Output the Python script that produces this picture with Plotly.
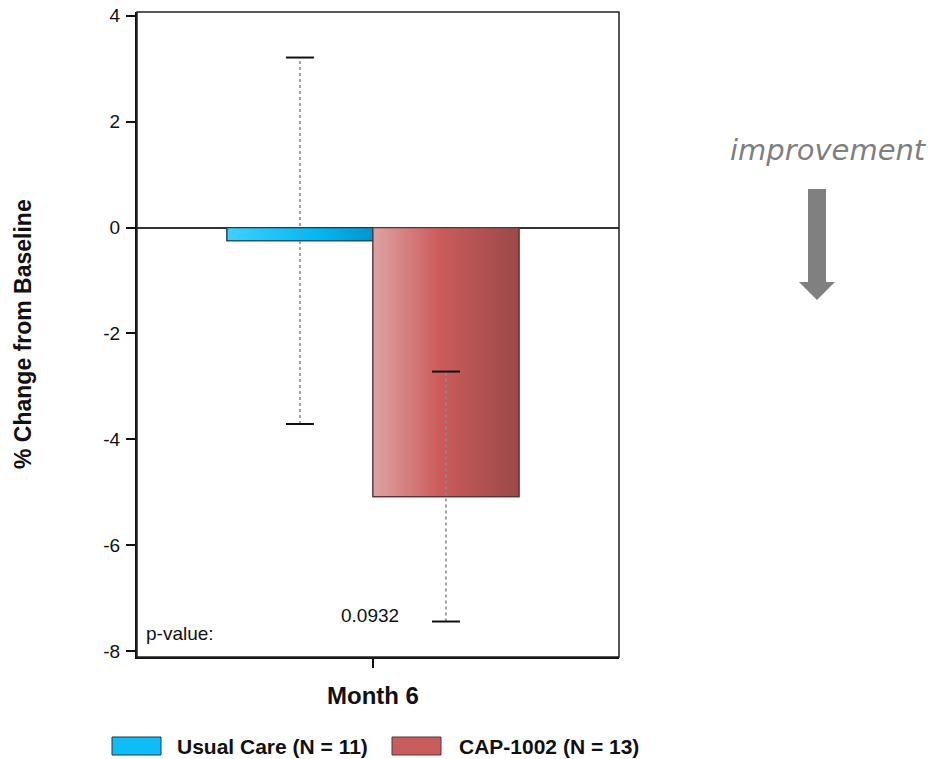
import plotly.graph_objects as go

# ---- data -------------------------------------------------------------
groups = ["Usual Care", "CAP-1002"]
group_n = [11, 13]
mean_change = [-0.25, -5.08]       # % change from baseline at month 6
sd_change = [3.46, 2.36]           # error bar half-length
timepoint = "Month 6"
p_value = "0.0932"
y_ticks = [-8, -6, -4, -2, 0, 2, 4]

# ---- styling ----------------------------------------------------------
W, H = 932, 759
L, R, T, B = 137, 619, 12, 657            # plot area in pixels
bar_x = [-0.5, 0.5]                       # bar centres around the time point
bar_w = 1.0
solid = ["#0fbcf5", "#c95c5c"]
outline = ["#1d3a48", "#5a3434"]
grad = [
    [[0, "#3fd0ff"], [0.6, "#05b8f2"], [1, "#0096cf"]],
    [[0, "#dea3a3"], [0.45, "#cc5c5c"], [1, "#9c4848"]],
]
SANS = "Liberation Sans, Arial, sans-serif"


def px(x):
    return (x - L) / (R - L)


def py(y):
    return (B - y) / (B - T)


fig = go.Figure()

for i, g in enumerate(groups):
    fig.add_trace(go.Bar(
        x=[bar_x[i]], y=[mean_change[i]], width=bar_w,
        marker=dict(color=solid[i], line=dict(color=outline[i], width=1.2)),
        name=f"{g} (N = {group_n[i]})", showlegend=False, hoverinfo="skip",
    ))
    # gradient skin over the bar
    x0, x1 = bar_x[i] - bar_w / 2, bar_x[i] + bar_w / 2
    fig.add_trace(go.Scatter(
        x=[x0, x1, x1, x0, x0], y=[0, 0, mean_change[i], mean_change[i], 0],
        mode="lines", fill="toself",
        fillgradient=dict(type="horizontal", colorscale=grad[i]),
        line=dict(color=outline[i], width=1.2),
        showlegend=False, hoverinfo="skip",
    ))

# error bars: dotted stems with solid caps
for i in range(len(groups)):
    lo = mean_change[i] - sd_change[i]
    hi = mean_change[i] + sd_change[i]
    fig.add_trace(go.Scatter(
        x=[bar_x[i], bar_x[i]], y=[lo, hi], mode="lines",
        line=dict(color="#8c8c8c", width=1.6, dash="dot"),
        showlegend=False, hoverinfo="skip",
    ))
    fig.add_trace(go.Scatter(
        x=[bar_x[i], bar_x[i]], y=[lo, hi], mode="markers",
        marker=dict(symbol="line-ew", size=20, line=dict(color="#111", width=2)),
        showlegend=False, hoverinfo="skip",
    ))

fig.update_layout(
    width=W, height=H,
    margin=dict(l=L, r=W - R, t=T, b=H - B, autoexpand=False),
    paper_bgcolor="white", plot_bgcolor="white",
    showlegend=False,
    xaxis=dict(
        range=[-1.616, 1.685], tickvals=[0], ticktext=[f"<b>{timepoint}</b>"],
        ticks="outside", ticklen=9, tickwidth=2, tickcolor="#111",
        ticklabelstandoff=7, automargin=False,
        tickfont=dict(family=SANS, size=24, color="#111"),
        showline=True, linecolor="#111", linewidth=2,
        showgrid=False, zeroline=False,
    ),
    yaxis=dict(
        range=[-8.11, 4.07], tickvals=y_ticks, ticktext=[str(v) for v in y_ticks],
        ticks="outside", ticklen=9, tickwidth=2, tickcolor="#111",
        ticklabelstandoff=2, automargin=False,
        tickfont=dict(family=SANS, size=19, color="#111"),
        showline=True, linecolor="#111", linewidth=2,
        showgrid=False, zeroline=True, zerolinecolor="#333", zerolinewidth=2,
    ),
)

# frame around the plot area
fig.add_shape(type="rect", xref="paper", yref="paper", x0=0, x1=1, y0=0, y1=1,
              line=dict(color="#222", width=1.5), layer="above")

# y-axis title
fig.add_annotation(
    text="<b>% Change from Baseline</b>", xref="paper", yref="paper",
    x=px(23), y=py(334), xanchor="center", yanchor="middle",
    textangle=-90, showarrow=False,
    font=dict(family=SANS, size=23, color="#111"),
)

# p-value row
fig.add_annotation(
    text="p-value:", xref="paper", yref="y", x=px(144), y=-7.66,
    xanchor="left", yanchor="middle", showarrow=False,
    font=dict(family=SANS, size=19, color="#111"),
)
fig.add_annotation(
    text=p_value, xref="x", yref="y", x=-0.02, y=-7.33,
    xanchor="center", yanchor="middle", showarrow=False,
    font=dict(family=SANS, size=19, color="#111"),
)

# "improvement" direction cue
fig.add_annotation(
    text="<i>improvement</i>", xref="paper", yref="paper",
    x=px(828), y=py(150), xanchor="center", yanchor="middle", showarrow=False,
    font=dict(family="DejaVu Sans", size=29, color="#7f7f7f"),
)
arrow_pts = [(808, 189), (826, 189), (826, 282), (835, 282), (817, 300),
             (799, 282), (808, 282)]
path = "M " + " L ".join(f"{px(a):.4f},{py(b):.4f}" for a, b in arrow_pts) + " Z"
fig.add_shape(type="path", xref="paper", yref="paper", path=path,
              fillcolor="#808080", line=dict(color="#808080", width=0))

# legend
legend_items = [(112, 175), (392, 457)]
for i, g in enumerate(groups):
    sx, tx = legend_items[i]
    fig.add_shape(type="rect", xref="paper", yref="paper",
                  x0=px(sx), x1=px(sx + 49), y0=py(755), y1=py(737),
                  fillcolor=solid[i], line=dict(color=outline[i], width=1))
    fig.add_annotation(
        text=f"<b>{g} (N = {group_n[i]})</b>", xref="paper", yref="paper",
        x=px(tx), y=py(746), xanchor="left", yanchor="middle", showarrow=False,
        font=dict(family=SANS, size=21, color="#111"),
    )

fig.write_html("out.html")
